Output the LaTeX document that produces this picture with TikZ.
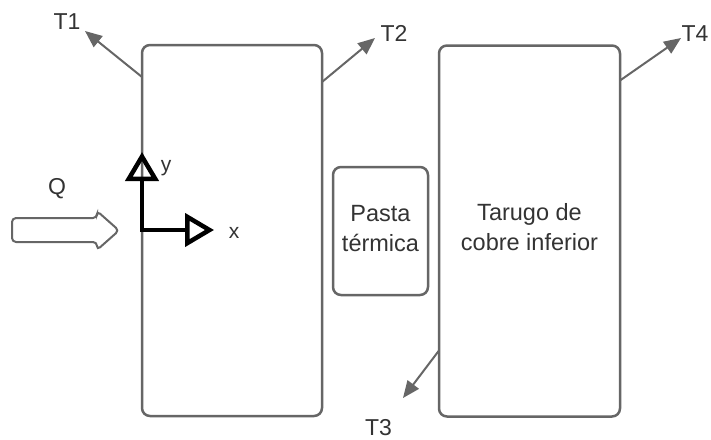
\documentclass[tikz,border=0pt]{standalone}
\usepackage{fontspec}
\setmainfont{Liberation Sans}
\usetikzlibrary{arrows.meta,calc}
\definecolor{ln}{HTML}{666666}
\definecolor{tx}{HTML}{333333}
\begin{document}
\begin{tikzpicture}[x=1pt,y=-1pt,
 box/.style={draw=ln, line width=2.5pt, rounded corners=8pt, inner sep=0pt, outer sep=0pt, text=tx, align=center, font=\fontsize{23.5}{30}\selectfont},
 lbl/.style={text=tx, font=\fontsize{23}{28}\selectfont, inner sep=0pt, anchor=base},
 small/.style={text=tx, font=\fontsize{21}{24}\selectfont, inner sep=0pt, anchor=base},
 tarr/.style={draw=ln, line width=2pt, -{Triangle[length=17pt,width=14pt]}},
 axis/.style={draw=black, line width=4.5pt, line join=miter, {Triangle[open,length=29pt,width=33pt]}-{Triangle[open,length=29pt,width=33pt]}},
 qarr/.style={draw=ln, line width=2pt, rounded corners=4pt, fill=white}]
\useasboundingbox (0,0) rectangle (711,439);
% blocks
\node[box, minimum width=180pt, minimum height=371pt] (L) at (232,230.5) {};
\node[box, minimum width=95pt, minimum height=128pt, text depth=5pt] (P) at (380.5,231) {Pasta\\térmica};
\node[box, minimum width=181pt, minimum height=371pt, text depth=9pt] (R) at (529.5,231) {Tarugo de\\cobre inferior};
% labels
\node[lbl] (T1) at (67,29) {T1};
\node[lbl] (T2) at (394,41) {T2};
\node[lbl] (T4) at (695,41) {T4};
\node[lbl] (T3) at (378.5,435.5) {T3};
\node[lbl] (Q) at (57,194) {Q};
\node[small] (ly) at (166,171) {y};
\node[small] (lx) at (234,238) {x};
% arrow end points
\coordinate (t1tip) at (85,31);
\coordinate (t2tip) at (375,38);
\coordinate (t4tip) at (681,38);
\coordinate (t3tip) at (403,398);
\draw[tarr] ($(L.north west)+(0,32)$) -- (t1tip);
\draw[tarr] ($(L.north east)+(0,37)$) -- (t2tip);
\draw[tarr] ($(R.north east)+(0,35)$) -- (t4tip);
\draw[tarr] ($(R.south west)+(0,-66)$) -- (t3tip);
% axes
\coordinate (O) at ($(L.west |- 0,230)$);
\coordinate (ytip) at ($(O)+(0,-78)$);
\coordinate (xtip) at ($(O)+(72,0)$);
\draw[axis] (ytip) -- (O) -- (xtip);
% heat flow arrow
\draw[qarr] (12,218) -- (97,218) -- (97,211) -- (119,230.5) -- (97,250) -- (97,242) -- (12,242) -- cycle;
\end{tikzpicture}
\end{document}
